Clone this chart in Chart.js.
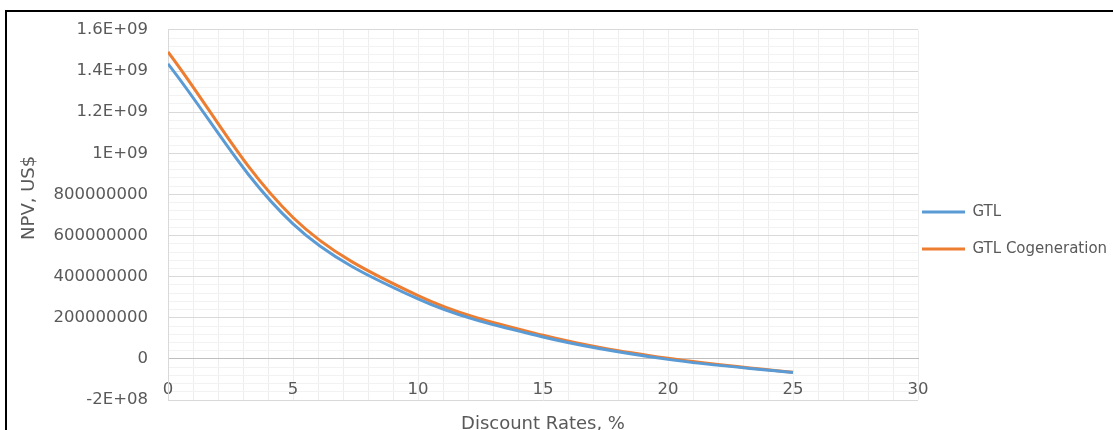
<!DOCTYPE html>
<html>
  <head>
    <meta charset="utf-8" />
    <title>NPV vs Discount Rate</title>
    <script src="https://cdn.jsdelivr.net/npm/chart.js"></script>
    <style>
      body { margin: 0; background: #fff; }
      .wrap { position: relative; width: 1114px; height: 430px; }
      .frame {
        position: absolute; left: 5px; top: 10px; width: 1106px; height: 420px;
        border-top: 2px solid #000; border-left: 2px solid #000; pointer-events: none;
      }
    </style>
  </head>
  <body>
    <div class="wrap">
      <canvas id="myChart"></canvas>
      <div class="frame"></div>
    </div>
    <script>
      // discount rate, %
      const rates = [0, 5, 10, 15, 20, 25];
      // NPV, US$
      const gtl = [1.435e9, 6.57e8, 2.92e8, 1.07e8, -2e6, -6.6e7];
      const gtlCogen = [1.493e9, 6.88e8, 3.08e8, 1.15e8, 3e6, -6.5e7];

      const yTickValues = [-2e8, 0, 2e8, 4e8, 6e8, 8e8, 1e9, 1.2e9, 1.4e9, 1.6e9];
      const yTickLabels = ['-2E+08', '0', '200000000', '400000000', '600000000',
                           '800000000', '1E+09', '1.2E+09', '1.4E+09', '1.6E+09'];
      const xTickValues = [0, 5, 10, 15, 20, 25, 30];
      const xTickLabels = ['0', '5', '10', '15', '20', '25', '30'];

      const textColor = '#595959';
      const fontFamily = 'DejaVu Sans';

      function pts(ys) {
        return rates.map((r, i) => ({ x: r, y: ys[i] }));
      }

      // move the legend a bit left / down, like the excel one
      const legendShift = {
        id: 'legendShift',
        afterLayout(chart) {
          const lg = chart.legend;
          if (!lg) return;
          lg.left -= 18;
          lg.top += 18; lg.bottom += 18;
        }
      };

      const data = {
        datasets: [
          {
            label: 'GTL',
            data: pts(gtl),
            borderColor: '#5B9BD5',
            backgroundColor: '#5B9BD5',
            borderWidth: 3,
            pointRadius: 0,
            tension: 0.35
          },
          {
            label: 'GTL Cogeneration',
            data: pts(gtlCogen),
            borderColor: '#ED7D31',
            backgroundColor: '#ED7D31',
            borderWidth: 3,
            pointRadius: 0,
            tension: 0.35
          }
        ]
      };

      const config = {
        type: 'line',
        data: data,
        options: {
          responsive: true,
          maintainAspectRatio: false,
          animation: false,
          layout: { padding: { top: 22.5, right: 0, bottom: 27.5, left: 0 } },
          plugins: {
            tooltip: { enabled: false },
            legend: {
              position: 'right',
              maxWidth: 196,
              labels: {
                usePointStyle: true,
                pointStyle: 'line',
                pointStyleWidth: 43,
                padding: 22,
                color: textColor,
                font: { family: fontFamily, size: 15 }
              }
            }
          },
          scales: {
            x: {
              type: 'linear',
              position: { y: 0 },
              min: 0,
              max: 30,
              afterFit: (s) => { s.height = 76; },
              border: { color: '#bfbfbf' },
              grid: { color: '#eeeeee', drawTicks: false },
              ticks: {
                stepSize: 1,
                maxTicksLimit: 100,
                autoSkip: false,
                maxRotation: 0,
                padding: 21,
                color: textColor,
                font: { family: fontFamily, size: 16.5 },
                callback: (v) => {
                  const i = xTickValues.indexOf(Math.round(v));
                  return (i >= 0 && Math.abs(v - xTickValues[i]) < 1e-6) ? xTickLabels[i] : '';
                }
              },
              title: {
                display: true,
                text: 'Discount Rates, %',
                color: textColor,
                font: { family: fontFamily, size: 18 },
                padding: { top: 0, bottom: 0 }
              }
            },
            y: {
              min: -2e8,
              max: 1.6e9,
              afterFit: (s) => { s.width = 168; },
              border: { color: '#d9d9d9' },
              grid: {
                drawTicks: false,
                color: (ctx) => {
                  const v = ctx.tick ? ctx.tick.value : 0;
                  if (Math.abs(v) < 1) return '#bfbfbf';
                  return Math.round(v / 4e7) % 5 === 0 ? '#d9d9d9' : '#f2f2f2';
                }
              },
              ticks: {
                stepSize: 4e7,
                maxTicksLimit: 100,
                autoSkip: false,
                padding: 20,
                color: textColor,
                font: { family: fontFamily, size: 16.5 },
                callback: (v) => {
                  for (let i = 0; i < yTickValues.length; i++) {
                    if (Math.abs(v - yTickValues[i]) < 1) return yTickLabels[i];
                  }
                  return '';
                }
              },
              title: {
                display: true,
                // leading spaces lift the label a little, as in the excel chart
                text: '      NPV, US$',
                color: textColor,
                font: { family: fontFamily, size: 18 },
                padding: { top: 19, bottom: 0 }
              }
            }
          }
        },
        plugins: [legendShift]
      };

      const myChart = new Chart(document.getElementById('myChart'), config);
    </script>
  </body>
</html>
